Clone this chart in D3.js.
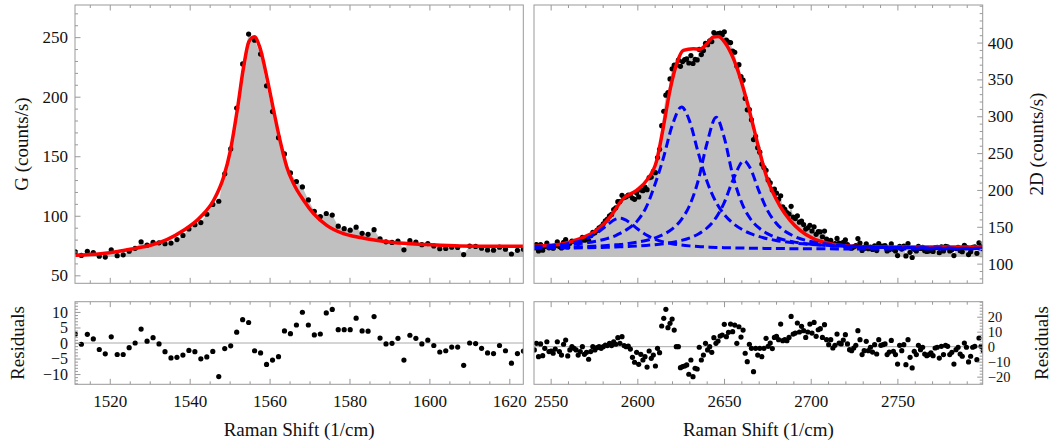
<!DOCTYPE html>
<html>
<head>
<meta charset="utf-8">
<script src="https://cdn.jsdelivr.net/npm/d3@7"></script>
<style>
  html, body { margin: 0; padding: 0; background: #fff; }
  #chart { width: 1052px; height: 445px; }
  #chart svg text { font-family: "Liberation Serif", "DejaVu Serif", serif; }
</style>
</head>
<body>
<div id="chart"></div>
<script>
// G band: measured counts, residuals, fit curve samples
const gStart = 1511.4;
const gStep = 1.495;
const gCounts = [69.7,66.7,70.2,69.1,66.0,65.3,71.4,66.5,67.2,70.2,
  72.7,78.2,75.3,77.6,77.3,76.6,77.1,80.0,83.5,88.9,
  92.5,94.3,101.3,109.5,112.2,135.2,156.1,190.5,227.5,252.6,
  247.5,235.8,209.1,187.5,165.6,151.9,136.0,128.8,124.2,113.3,
  103.8,99.4,101.9,100.6,91.3,89.2,87.9,90.4,85.3,84.4,
  88.3,80.7,78.1,77.6,78.8,71.4,79.1,77.8,75.7,76.7,
  74.7,72.4,72.6,73.6,73.4,67.4,74.6,74.3,72.8,71.3,
  71.1,73.6,71.9,67.9,71.0,71.8];
const gResiduals = [2.9,-0.4,2.8,1.3,-2.1,-3.5,2.0,-3.7,-3.7,-1.5,
  0,4.5,0.6,1.7,-0.3,-2.8,-4.8,-4.6,-3.9,-2.4,
  -2.8,-5.1,-4.5,-2.7,-10.8,-1.8,-0.9,3.5,7.5,6.6,
  -2.5,-3.2,-6.9,-5.5,-4.4,3.9,3.0,5.8,9.9,5.8,
  2.6,2.9,9.7,10.8,4.3,4.3,4.3,8.0,3.9,3.8,
  8.5,1.6,-0.3,-0.1,1.5,-5.5,2.5,1.5,-0.3,0.9,
  -0.8,-2.9,-2.5,-1.3,-1.3,-7.2,0,-0.2,-1.7,-3.2,
  -3.4,-0.8,-2.5,-6.5,-3.4,-2.6];
const gFitX = [1511.4,1517.7,1522,1526,1530.2,1534.3,1538.5,1542.7,1546,1548.5,
  1550.2,1551.9,1553.5,1554.8,1556.2,1557.5,1559.4,1561,1562.7,1564.3,
  1566,1568.5,1571,1574.3,1578.5,1582.7,1591,1599.3,1607.7,1615,1623.5];
const gFitY = [66.8,68.2,70,72.4,75.2,80,87.8,99,113,132.6,
  155,188.7,225,246,250.3,242,215,188.7,162,141,
  127,113,101.8,92,85,81.7,77.5,75.8,74.6,74.4,74.4];
const gFillBase = 65.4;

// 2D band
const dStart = 2540.6;
const dStep = 1.204;
const dCounts = [121.3,125.9,117.2,125.9,118.3,123.4,128.0,121.5,122.1,121.0,
  124.2,129.4,123.1,121.2,128.8,132.5,122.7,127.6,130.6,130.4,
  130.1,127.6,130.8,135.5,131.8,134.6,131.4,137.9,142.6,141.8,
  145.0,148.5,150.2,154.1,158.0,160.4,164.7,166.8,173.3,175.8,
  184.1,184.2,192.7,189.6,190.7,192.9,192.6,188.9,187.3,195.7,
  190.5,200.0,199.0,204.0,200.3,216.7,217.4,225.2,223.5,243.9,
  255.2,287.2,306.8,328.6,332.1,350.7,364.4,369.3,369.5,376.1,
  367.8,374.2,376.8,378.0,372.3,382.3,371.6,377.1,376.4,390.7,
  383.7,389.1,399.0,397.1,402.2,401.4,413.6,410.2,412.1,413.0,
  410.7,414.6,403.4,400.6,400.0,388.6,386.9,368.2,370.0,353.7,
  349.0,324.2,308.8,309.1,295.2,268.4,272.7,257.4,251.3,235.2,
  230.4,226.6,213.6,209.6,199.8,201.2,195.7,187.3,192.1,177.0,
  173.7,169.1,167.3,177.8,163.2,161.1,165.0,156.2,157.8,153.1,
  146.9,148.7,152.1,144.3,149.9,139.7,143.3,143.2,136.5,144.2,
  133.3,129.1,131.7,125.7,127.1,134.2,127.8,126.8,129.0,132.2,
  125.7,121.8,121.0,122.7,124.4,134.1,128.0,117.9,120.5,126.7,
  120.3,122.5,119.2,124.0,117.7,127.3,123.4,123.8,124.3,117.2,
  118.9,126.7,119.4,117.2,110.9,123.4,119.8,123.8,110.5,127.2,
  115.4,108.3,119.4,117.2,123.4,120.5,122.1,117.6,116.5,117.2,
  118.3,116.5,121.6,122.1,114.9,122.7,117.2,123.4,122.7,117.2,
  118.7,110.9,120.5,122.1,117.6,116.1,124.9,122.1,112.3,116.1,
  122.1,122.7,113.8,128.3,122.7,119.8];
const dResiduals = [-2.2,2.2,-6.7,1.8,-6.0,-1.1,3.3,-3.3,-2.9,-4.4,
  -1.6,3.3,-3.3,-5.6,1.6,4.4,-6.2,-2.2,0,-1.1,
  -2.2,-5.6,-3.3,0,-5.1,-3.8,-8.4,-3.3,0,-2.2,
  -0.7,0,-1.1,0,1.1,0.7,2.2,0.7,3.3,1.6,
  6.0,2.2,6.7,0.7,0,0.4,-1.6,-7.1,-10.4,-3.8,
  -11.8,-5.1,-8.9,-6.7,-13.6,-2.9,-7.8,-5.6,-12.9,-1.1,
  -4.0,13.8,18.9,24.9,12.7,15.6,18.4,11.1,0,0,
  -14,-13.3,-12.9,-12.2,-18.4,-8.9,-20,-14.4,-14.9,-0.4,
  -8.9,-5.6,2.2,-2.2,0,-3.8,6.0,2.2,3.8,7.1,
  7.8,14.9,6.7,9.6,15.1,10,14.4,2.2,13.3,6.4,
  11.1,-4.4,-10,1.6,-1.1,-16.7,-1.1,-5.6,-1.1,-6.7,
  -1.1,5.6,
  0.2,2.4,-1.3,6.2,6.9,4.7,15.1,4.0,4.7,4.0,
  6.2,20.2,8.4,9.1,15.8,9.8,13.6,10.7,6.2,9.8,
  15.1,9.1,16.2,6.9,11.3,12,6.2,14.7,4.7,1.3,
  4.7,-0.9,0.9,8.4,2.4,1.8,4.4,8,1.8,-2,
  -2.7,-0.9,0.9,10.7,4.7,-5.3,-2.7,3.6,-2.7,-0.4,
  -3.6,1.3,-4.9,4.7,0.9,1.3,1.8,-5.3,-3.6,4.2,
  -3.1,-5.3,-11.6,0.9,-2.7,1.3,-12,4.7,-7.1,-14.2,
  -3.1,-5.3,0.9,-2,-0.4,-4.9,-6,-5.3,-4.2,-6,
  -0.9,-0.4,-7.6,0.2,-5.3,0.9,0.2,-5.3,-3.8,-11.6,
  -2,-0.4,-4.9,-6.4,2.4,-0.4,-10.2,-6.4,-0.4,0.2,
  -8.7,5.8,0.2,-2.7];
const dFitX = [2540.4,2550,2557.3,2566.9,2576.5,2584.2,2591.9,2599.6,2605.4,2611.2,
  2615,2618.8,2622.7,2626.5,2632.3,2636,2640,2643.8,2646.7,2651.6,
  2657.3,2663.1,2668.9,2674.6,2682.3,2688.1,2693.9,2701.5,2711.2,2720.8,
  2740,2770,2799.2];
const dFitY = [123.5,125,127.1,133.9,145.2,163.2,188.2,199.5,213,240.2,
  285.3,335.1,371.4,389.4,391.7,391,398,407.5,408.4,396.2,
  366.8,321.6,267.3,217.5,178,158.8,145.2,133.9,127.1,123.9,
  122.5,122.5,122.5];
// four Lorentzian components, sampled on a shared grid
const compX = [2540,2550,2560,2570,2577.5,2582.5,2587.5,2590,2595,2600,
  2605,2610,2615,2620,2625.5,2630,2635,2640,2645.5,2650,
  2655,2661.5,2665,2670,2675,2680,2690,2700,2715,2735,2760,2799];
const comp1 = [122.6,124.1,127,133.3,142.9,152.2,160.3,161.5,156.7,147.3,
  139.1,133.3,129.5,127,125.2,124.1,123.2,122.6,122,121.7,
  121.4,121.1,120.9,120.8,120.6,120.5,120.3,120.2,120,119.9,119.8,119.7];
const comp2 = [123,124,125.5,128,131,134,138,141,148,158,
  176,206.3,243.1,286.7,312.5,294.4,251.7,212.7,183,167,
  155,144.9,141,136.9,133.8,131.5,128.2,126.1,124.1,122.6,121.6,120.7];
const comp3 = [121.4,121.8,122.3,123.1,123.9,124.6,125.5,126,127.4,129.1,
  131.4,134.7,139.5,146.8,160,178.2,211.8,261.7,298.5,272.1,
  220.5,175.7,161.6,148.7,140.7,135.5,129.5,126.3,123.7,122.1,121.1,120.4];
const comp4 = [120.7,120.9,121.2,121.5,121.9,122.2,122.6,122.8,123.3,123.9,
  124.7,125.7,127,128.8,131.5,134.7,139.9,148,162.7,182.1,
  212.3,239.5,230.1,199.4,172.5,155.1,137.6,130.1,125.2,122.6,121.3,120.4];
const dFillBase = 109;

// ticks
const gTicksX = [1520, 1540, 1560, 1580, 1600, 1620];
const gTicksY = [50, 100, 150, 200, 250];
const gResTicks = [-10, -5, 0, 5, 10];
const dTicksX = [2550, 2600, 2650, 2700, 2750];
const dTicksY = [100, 150, 200, 250, 300, 350, 400];
const dResTicks = [-20, -10, 0, 10, 20];

const font = '"Liberation Serif", "DejaVu Serif", serif';
const frameColor = '#999';

const svg = d3
  .select('#chart')
  .append('svg')
  .attr('width', 1052)
  .attr('height', 445);

// panel boxes
const left = { x0: 75, x1: 523.3 };
const right = { x0: 534, x1: 982.7 };
const upper = { y0: 5, y1: 283.3 };
const lower = { y0: 301.7, y1: 384.3 };

const xG = d3.scaleLinear().domain([1511.3, 1623.5]).range([left.x0, left.x1]);
const xD = d3.scaleLinear().domain([2540.4, 2799.2]).range([right.x0, right.x1]);
const yG = d3.scaleLinear().domain([43.3, 277]).range([upper.y1, upper.y0]);
const yD = d3.scaleLinear().domain([73.3, 451]).range([upper.y1, upper.y0]);
const rG = d3.scaleLinear().domain([-13.3, 13.3]).range([lower.y1, lower.y0]);
const rD = d3.scaleLinear().domain([-25.1, 30]).range([lower.y1, lower.y0]);

const toPoints = (start, step, values) =>
  values.map((v, i) => ({ x: start + i * step, v }));

const gData = toPoints(gStart, gStep, gCounts);
const gRes = toPoints(gStart, gStep, gResiduals);
const dData = toPoints(dStart, dStep, dCounts);
const dRes = toPoints(dStart, dStep, dResiduals);

const minorsOf = (lo, hi, step, majors) =>
  d3.range(lo, hi + 1e-9, step).filter((v) => !majors.some((m) => Math.abs(m - v) < 1e-6));

let clipId = 0;
const panel = (box, vbox) => {
  const id = 'clip' + clipId++;
  svg
    .append('clipPath')
    .attr('id', id)
    .append('rect')
    .attr('x', box.x0)
    .attr('y', vbox.y0)
    .attr('width', box.x1 - box.x0)
    .attr('height', vbox.y1 - vbox.y0);
  return svg.append('g').attr('clip-path', `url(#${id})`);
};

const frame = (box, vbox) => {
  svg
    .append('rect')
    .attr('x', box.x0)
    .attr('y', vbox.y0)
    .attr('width', box.x1 - box.x0)
    .attr('height', vbox.y1 - vbox.y0)
    .attr('fill', 'none')
    .attr('stroke', frameColor)
    .attr('stroke-width', 1);
};

const axisPair = (axisGen, scale, tr, majors, minors, labels, pad, size) => {
  svg
    .append('g')
    .attr('class', 'ax')
    .attr('transform', tr)
    .call(axisGen(scale).tickValues(minors).tickSize(-3).tickFormat(''));
  svg
    .append('g')
    .attr('class', 'ax')
    .attr('transform', tr)
    .call(
      axisGen(scale)
        .tickValues(majors)
        .tickSize(-5.5)
        .tickPadding(pad || 7)
        .tickFormat(labels ? d3.format('d') : '')
    )
    .attr('data-size', size || 17);
};

const drawSpectrum = (g, data, x, y, base) => {
  g.append('path')
    .datum(data)
    .attr('fill', '#c0c0c0')
    .attr(
      'd',
      d3
        .area()
        .x((d) => x(d.x))
        .y0(y(base))
        .y1((d) => y(d.v))
    );
  g.selectAll(null)
    .data(data)
    .join('circle')
    .attr('cx', (d) => x(d.x))
    .attr('cy', (d) => y(d.v))
    .attr('r', 2.6)
    .attr('fill', '#000');
};

const curve = (g, xs, ys, x, y, color, width, dash) => {
  g.append('path')
    .datum(xs.map((v, i) => [v, ys[i]]))
    .attr('fill', 'none')
    .attr('stroke', color)
    .attr('stroke-width', width)
    .attr('stroke-dasharray', dash || null)
    .attr(
      'd',
      d3
        .line()
        .x((d) => x(d[0]))
        .y((d) => y(d[1]))
        .curve(d3.curveMonotoneX)
    );
};

const drawResiduals = (g, data, x, r, box) => {
  g.append('line')
    .attr('x1', box.x0)
    .attr('x2', box.x1)
    .attr('y1', r(0))
    .attr('y2', r(0))
    .attr('stroke', '#aaa')
    .attr('stroke-width', 1);
  g.selectAll(null)
    .data(data)
    .join('circle')
    .attr('cx', (d) => x(d.x))
    .attr('cy', (d) => r(d.v))
    .attr('r', 2.6)
    .attr('fill', '#000');
};

// G panel
const gTop = panel(left, upper);
drawSpectrum(gTop, gData, xG, yG, gFillBase);
curve(gTop, gFitX, gFitY, xG, yG, '#ff0000', 3.5);

// 2D panel
const dTop = panel(right, upper);
drawSpectrum(dTop, dData, xD, yD, dFillBase);
curve(dTop, dFitX, dFitY, xD, yD, '#ff0000', 3.5);
[comp1, comp2, comp3, comp4].forEach((c) =>
  curve(dTop, compX, c, xD, yD, '#0000ff', 3, '9,4.5')
);

// residuals
drawResiduals(panel(left, lower), gRes, xG, rG, left);
drawResiduals(panel(right, lower), dRes, xD, rD, right);

// axes
const gMinorX = minorsOf(1515, 1620, 5, gTicksX);
const dMinorX = minorsOf(2550, 2790, 10, dTicksX);

axisPair(d3.axisLeft, yG, `translate(${left.x0},0)`, gTicksY, minorsOf(60, 270, 10, gTicksY), true);
axisPair(d3.axisBottom, xG, `translate(0,${upper.y1})`, gTicksX, gMinorX, false);
axisPair(d3.axisTop, xG, `translate(0,${upper.y0})`, gTicksX, gMinorX, false);

axisPair(d3.axisRight, yD, `translate(${right.x1},0)`, dTicksY, minorsOf(80, 450, 10, dTicksY), true, 5);
axisPair(d3.axisBottom, xD, `translate(0,${upper.y1})`, dTicksX, dMinorX, false);
axisPair(d3.axisTop, xD, `translate(0,${upper.y0})`, dTicksX, dMinorX, false);

axisPair(d3.axisLeft, rG, `translate(${left.x0},0)`, gResTicks, minorsOf(-13, 13, 1, gResTicks), true, 7, 16);
axisPair(d3.axisBottom, xG, `translate(0,${lower.y1})`, gTicksX, gMinorX, true, 10.5);
axisPair(d3.axisTop, xG, `translate(0,${lower.y0})`, gTicksX, gMinorX, false);

axisPair(d3.axisRight, rD, `translate(${right.x1},0)`, dResTicks, minorsOf(-24, 30, 2, dResTicks), true, 5, 14.5);
axisPair(d3.axisBottom, xD, `translate(0,${lower.y1})`, dTicksX, dMinorX, true, 10.5);
axisPair(d3.axisTop, xD, `translate(0,${lower.y0})`, dTicksX, dMinorX, false);

svg.selectAll('.ax .domain').remove();
svg.selectAll('.ax').each(function () {
  const g = d3.select(this);
  g.attr('font-family', font).attr('font-size', +g.attr('data-size') || 17);
});
svg.selectAll('.ax line').attr('stroke', frameColor);
svg.selectAll('.ax text').attr('fill', '#111');

frame(left, upper);
frame(right, upper);
frame(left, lower);
frame(right, lower);

// titles
const title = (txt, x, y, rotate) => {
  svg
    .append('text')
    .attr('transform', `translate(${x},${y})` + (rotate ? ' rotate(-90)' : ''))
    .attr('text-anchor', 'middle')
    .attr('font-family', font)
    .attr('font-size', 19)
    .attr('fill', '#111')
    .text(txt);
};
title('G (counts/s)', 28, 144, true);
title('2D (counts/s)', 1043, 144, true);
title('Residuals', 24, 343, true);
title('Residuals', 1048, 343, true);
title('Raman Shift (1/cm)', (left.x0 + left.x1) / 2, 436, false);
title('Raman Shift (1/cm)', (right.x0 + right.x1) / 2, 436, false);
</script>
</body>
</html>
